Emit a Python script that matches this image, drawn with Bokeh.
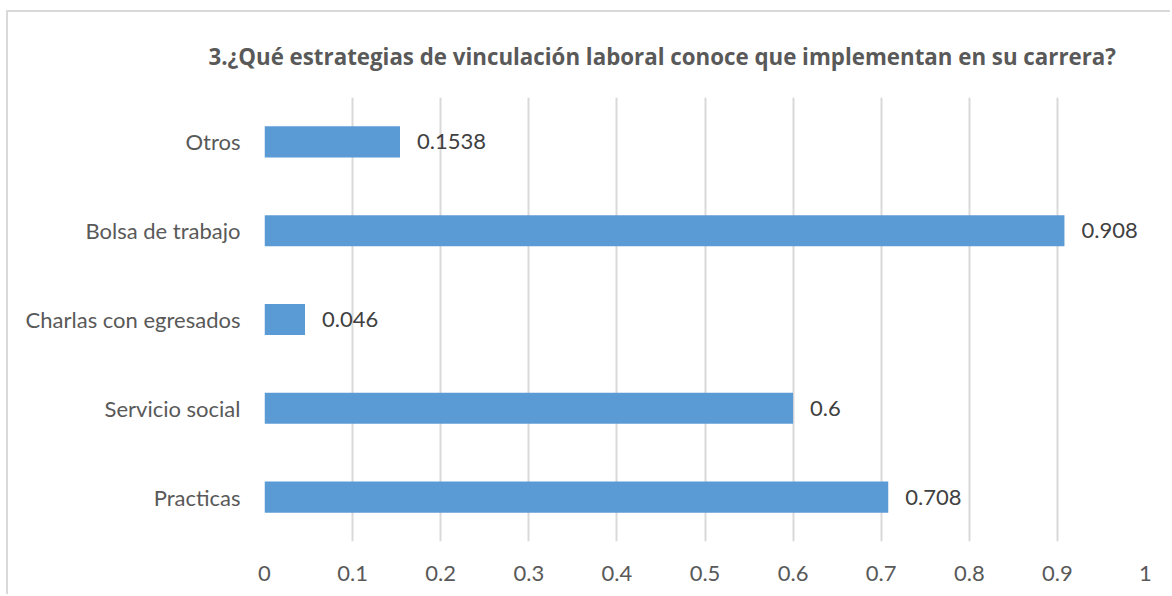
from bokeh.plotting import figure
from bokeh.models import Range1d, FactorRange, ColumnDataSource, LabelSet, FixedTicker
from bokeh.core.properties import value
from bokeh.embed import file_html
from bokeh.resources import INLINE

categories = ["Practicas", "Servicio social", "Charlas con egresados", "Bolsa de trabajo", "Otros"]
values = [0.708, 0.6, 0.046, 0.908, 0.1538]
value_labels = ["0.708", "0.6", "0.046", "0.908", "0.1538"]
x_ticks = [0, 0.1, 0.2, 0.3, 0.4, 0.5, 0.6, 0.7, 0.8, 0.9, 1]
title_text = "3.¿Qué estrategias de vinculación laboral conoce que implementan en su carrera?"

FONT = "Lato"
TEXT = "#595959"

src = ColumnDataSource(dict(cat=categories, val=values, lab=value_labels))

p = figure(width=1164, height=584, output_backend="svg", toolbar_location=None,
           x_range=Range1d(0, 1), y_range=FactorRange(*categories, range_padding=0),
           min_border_left=256, min_border_right=27, min_border_top=84, min_border_bottom=55,
           styles={"margin-left": "6px", "margin-top": "10px",
                   "border-left": "2px solid #d9d9d9", "border-top": "2px solid #d9d9d9"})
p.outline_line_color = None
p.background_fill_color = "white"
p.border_fill_color = "white"

p.hbar(y="cat", right="val", left=0, height=0.35, source=src, color="#5B9BD5", line_color=None)

labels = LabelSet(x="val", y="cat", text="lab", source=src, x_offset=17,
                  text_align="left", text_baseline="middle", text_font=value(FONT),
                  text_font_size="22px", text_color="#404040")
p.add_layout(labels)

p.xaxis.ticker = FixedTicker(ticks=x_ticks)
p.xaxis.major_label_overrides = {0: "0", 1: "1"}
for ax in (p.xaxis, p.yaxis):
    ax.axis_line_color = None
    ax.major_tick_line_color = None
    ax.minor_tick_line_color = None
    ax.major_label_text_font = FONT
    ax.major_label_text_font_size = "22px"
    ax.major_label_text_color = TEXT
p.xaxis.major_label_standoff = 18
p.yaxis.major_label_standoff = 18

p.xgrid.ticker = FixedTicker(ticks=x_ticks)
p.xgrid.grid_line_color = "#D9D9D9"
p.xgrid.grid_line_width = 2
p.ygrid.grid_line_color = None

p.title.text = title_text
p.title.align = "left"
p.title.offset = -56
p.title.text_font = "Open Sans"
p.title.text_font_style = "bold"
p.title.text_font_size = "22.3px"
p.title.text_color = TEXT
p.title.standoff = 52

open("out.html", "w").write(file_html(p, INLINE))
